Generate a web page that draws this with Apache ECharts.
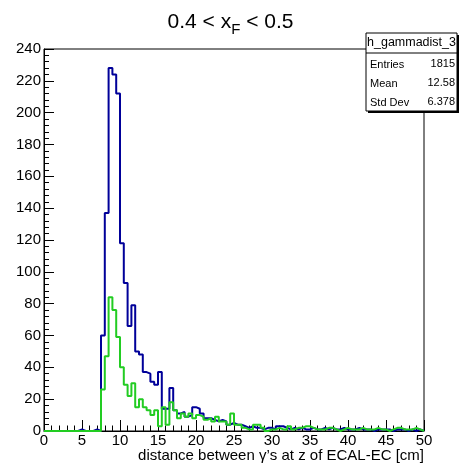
<!DOCTYPE html>
<html>
<head>
<meta charset="utf-8">
<script src="https://cdn.jsdelivr.net/npm/echarts@6/dist/echarts.min.js"></script>
<style>html,body{margin:0;padding:0;background:#fff;}#c{width:461px;height:464px;}</style>
</head>
<body>
<div id="c"></div>
<script>
// 100 bins of width 0.5 from 0 to 50
const binWidth = 0.5;
const nBins = 100;
const binLow = Array.from({length: nBins}, (_, i) => i * binWidth);

const blueCounts = [
  0,0,0,0,0,0,0,0,0,1, 0,0,0,1,0,
  60,137,228,224,212,118,93,66,79,50,48,37,36,31,29,37,14,
  14,27,13,11,12,9,10,15,14,11,8,8,7,6,7,6,4,5,4,4,
  3,2,3,2,2,1,2,2,1,3,3,2,1,2,1,2,1,1,
  2,1,1,2,1,2,1,1,2,1,1,1,2,1,1,1,0,1,1,1,
  1,0,1,1,1,0,1,0,1,0
];
const greenCounts = [
  0,0,0,0,0,0,0,0,0,0, 0,0,0,0,0,
  26,47,84,76,59,40,29,22,30,15,20,15,13,10,13,3,15,
  4,18,13,8,11,9,11,8,10,9,7,8,6,9,6,6,4,11,4,4,
  2,1,1,4,4,2,0,1,1,2,1,1,3,1,2,2,3,3,
  2,1,1,1,2,2,1,0,1,2,1,1,1,2,1,1,1,2,1,1,
  0,1,2,2,1,1,1,2,1,0
];
const yTicks = [0,20,40,60,80,100,120,140,160,180,200,220,240];
const xTicks = [0,5,10,15,20,25,30,35,40,45,50];

const statsName = 'h_gammadist_3';
const statsLabels = ['Entries', 'Mean', 'Std Dev'];
const statsValues = ['1815', '12.58', '6.378'];

function toStep(counts) {
  const d = binLow.map((x, i) => [x, counts[i]]);
  d.push([binLow[nBins - 1] + binWidth, counts[nBins - 1]]);
  return d;
}

const FONT = 'Liberation Sans, Arial, Helvetica, sans-serif';
const chart = echarts.init(document.getElementById('c'), null, {renderer: 'canvas'});

const gl = 44, gt = 49, gr = 424, gb = 431;

const option = {
  animation: false,
  backgroundColor: '#fff',
  title: {
    text: '{a|0.4 < x}{s|F}{a| < 0.5}',
    left: 'center',
    top: 2,
    textStyle: {
      fontWeight: 'normal',
      rich: {
        a: {fontFamily: FONT, fontSize: 21, fontWeight: 'normal', color: '#000', lineHeight: 30, verticalAlign: 'middle'},
        s: {fontFamily: FONT, fontSize: 15, fontWeight: 'normal', color: '#000', lineHeight: 15, verticalAlign: 'bottom'}
      }
    }
  },
  grid: {left: gl, top: gt, right: 461 - gr, bottom: 464 - gb, show: true, borderColor: '#000', borderWidth: 1, backgroundColor: 'transparent'},
  xAxis: {
    type: 'value', min: 0, max: 50, interval: 5,
    axisLine: {show: true, lineStyle: {color: '#000', width: 1}},
    axisTick: {show: true, inside: true, length: 11, lineStyle: {color: '#000', width: 1}},
    minorTick: {show: true, splitNumber: 5, length: 5.5, lineStyle: {color: '#000', width: 1}},
    splitLine: {show: false},
    axisLabel: {fontFamily: FONT, fontSize: 15, color: '#000', margin: 2,
      formatter: v => xTicks.includes(v) ? String(v) : ''}
  },
  yAxis: {
    type: 'value', min: 0, max: 240, interval: 20,
    axisLine: {show: true, lineStyle: {color: '#000', width: 1}},
    axisTick: {show: true, inside: true, length: 10, lineStyle: {color: '#000', width: 1}},
    minorTick: {show: true, splitNumber: 5, length: 5, lineStyle: {color: '#000', width: 1}},
    splitLine: {show: false},
    axisLabel: {fontFamily: FONT, fontSize: 15, color: '#000', margin: 3,
      formatter: v => yTicks.includes(v) ? String(v) : ''}
  },
  series: [
    {type: 'line', step: 'end', data: toStep(blueCounts), showSymbol: false, symbol: 'none',
      lineStyle: {color: '#000099', width: 2}, z: 2},
    {type: 'line', step: 'end', data: toStep(greenCounts), showSymbol: false, symbol: 'none',
      lineStyle: {color: '#22cc22', width: 2}, z: 3}
  ],
  graphic: [
    {type: 'text', right: 461 - gr, top: 448, style: {text: 'distance between \u03b3\u2019s at z of ECAL-EC [cm]', fontFamily: FONT, fontSize: 15, fill: '#000'}},
    {type: 'rect', shape: {x: 368, y: 35, width: 91, height: 78}, style: {fill: '#000'}, z: 10},
    {type: 'rect', shape: {x: 366, y: 33, width: 91, height: 78}, style: {fill: '#fff', stroke: '#000', lineWidth: 1}, z: 11},
    {type: 'line', shape: {x1: 366, y1: 53, x2: 457, y2: 53}, style: {stroke: '#000', lineWidth: 1}, z: 12},
    {type: 'text', x: 411.5, y: 43, style: {text: statsName, fontFamily: FONT, fontSize: 12.5, fill: '#000', align: 'center', verticalAlign: 'middle'}, z: 12},
    ...statsLabels.map((t, i) => ({type: 'text', x: 370, y: 65 + i * 19, style: {text: t, fontFamily: FONT, fontSize: 11, fill: '#000', align: 'left', verticalAlign: 'middle'}, z: 12})),
    ...statsValues.map((t, i) => ({type: 'text', x: 455, y: 64 + i * 19, style: {text: t, fontFamily: FONT, fontSize: 11, fill: '#000', align: 'right', verticalAlign: 'middle'}, z: 12}))
  ]
};
chart.setOption(option);
</script>
</body>
</html>
